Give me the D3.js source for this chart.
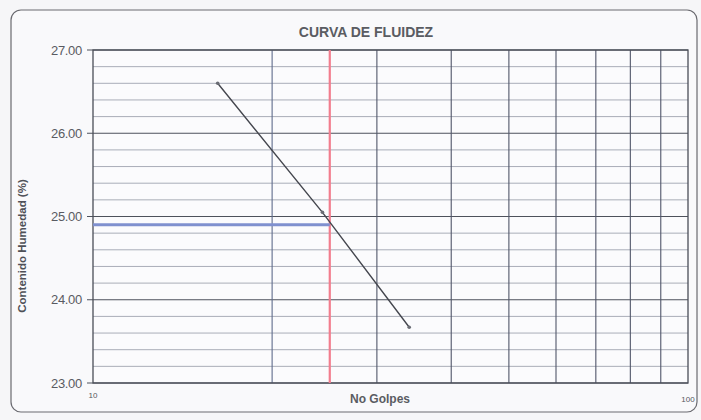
<!DOCTYPE html>
<html>
<head>
<meta charset="utf-8">
<script src="https://cdn.jsdelivr.net/npm/d3@7"></script>
<style>
  body { margin: 0; background: #f6f6f8; }
  svg { display: block; font-family: "Liberation Sans", Arial, sans-serif; }
</style>
</head>
<body>
<svg id="chart" width="701" height="420"></svg>
<script>
// values
const golpes = [16.2, 24.3, 34.0];
const humedad = [26.60, 25.05, 23.67];
const golpesLL = 25;
const humedadLL = 24.90;
const xGrid = [20, 30, 40, 50, 60, 70, 80, 90];
const yMajor = [23, 24, 25, 26, 27];
const xLabels = [10, 100];

const margin = { top: 50, right: 13, bottom: 37, left: 93 };
const W = 701, H = 420;
const w = W - margin.left - margin.right;
const h = H - margin.top - margin.bottom;

const svg = d3.select('#chart');

// outer frame (rounded box of the sheet)
svg.append('rect')
    .attr('x', 11).attr('y', 10)
    .attr('width', 686).attr('height', 402)
    .attr('rx', 10)
    .attr('fill', '#f9f9fb')
    .attr('stroke', '#6a6a70')
    .attr('stroke-width', 1.2);

const g = svg.append('g').attr('transform', `translate(${margin.left},${margin.top})`);

const x = d3.scaleLog().domain([10, 100]).range([0, w]);
const y = d3.scaleLinear().domain([23, 27]).range([h, 0]);

g.append('rect').attr('width', w).attr('height', h).attr('fill', '#fbfbfd');

// minor horizontal grid every 0.2
const yMinor = d3.range(23.2, 27, 0.2).filter(v => Math.abs(v - Math.round(v)) > 0.01);
g.selectAll('line.ymin').data(yMinor).enter().append('line')
    .attr('class', 'ymin')
    .attr('x1', 0).attr('x2', w)
    .attr('y1', d => y(d)).attr('y2', d => y(d))
    .attr('stroke', '#a9adb8').attr('stroke-width', 1);

g.selectAll('line.ymaj').data(yMajor).enter().append('line')
    .attr('class', 'ymaj')
    .attr('x1', -6).attr('x2', w)
    .attr('y1', d => y(d)).attr('y2', d => y(d))
    .attr('stroke', '#4e525c').attr('stroke-width', 1.2);

// vertical grid (log)
g.selectAll('line.xg').data(xGrid).enter().append('line')
    .attr('class', 'xg')
    .attr('x1', d => x(d)).attr('x2', d => x(d))
    .attr('y1', 0).attr('y2', h)
    .attr('stroke', d => d === 20 ? '#5f6b8c' : '#51566a')
    .attr('stroke-width', 1.1);

// frame of plot area
g.append('rect').attr('width', w).attr('height', h)
    .attr('fill', 'none').attr('stroke', '#4a4e58').attr('stroke-width', 1.3);

// 25 blows guide (red) and moisture at 25 blows (blue)
g.append('line')
    .attr('x1', x(golpesLL)).attr('x2', x(golpesLL))
    .attr('y1', 0).attr('y2', h)
    .attr('stroke', '#f27d8e').attr('stroke-width', 2.2);

g.append('line')
    .attr('x1', 0).attr('x2', x(golpesLL))
    .attr('y1', y(humedadLL)).attr('y2', y(humedadLL))
    .attr('stroke', '#7f90cf').attr('stroke-width', 3);

// flow curve
const pts = golpes.map((d, i) => [d, humedad[i]]);
g.append('path')
    .datum(pts)
    .attr('fill', 'none')
    .attr('stroke', '#44464e')
    .attr('stroke-width', 1.4)
    .attr('d', d3.line().x(d => x(d[0])).y(d => y(d[1])));

g.selectAll('circle.pt').data(pts).enter().append('circle')
    .attr('class', 'pt')
    .attr('cx', d => x(d[0])).attr('cy', d => y(d[1]))
    .attr('r', 1.8).attr('fill', '#6a6c74');

// y tick labels
g.selectAll('text.yl').data(yMajor).enter().append('text')
    .attr('class', 'yl')
    .attr('x', -11).attr('y', d => y(d) + 4.5)
    .attr('text-anchor', 'end')
    .attr('font-size', 13)
    .attr('letter-spacing', -0.3)
    .attr('fill', '#595b62')
    .text(d => d3.format('.2f')(d));

// x tick labels
g.selectAll('text.xl').data(xLabels).enter().append('text')
    .attr('class', 'xl')
    .attr('x', d => x(d)).attr('y', (d, i) => h + 15 + i * 4)
    .attr('text-anchor', 'middle')
    .attr('font-size', 8)
    .attr('fill', '#55575e')
    .text(d => d);

// titles
svg.append('text')
    .attr('x', 366).attr('y', 37)
    .attr('text-anchor', 'middle')
    .attr('font-size', 14)
    .attr('font-weight', 'bold')
    .attr('fill', '#5a5c62')
    .text('CURVA DE FLUIDEZ');

svg.append('text')
    .attr('x', 380).attr('y', 403)
    .attr('text-anchor', 'middle')
    .attr('font-size', 12)
    .attr('font-weight', 'bold')
    .attr('fill', '#5a5c62')
    .text('No Golpes');

svg.append('text')
    .attr('transform', 'translate(26,246) rotate(-90)')
    .attr('text-anchor', 'middle')
    .attr('font-size', 11.5)
    .attr('font-weight', 'bold')
    .attr('fill', '#4f5157')
    .text('Contenido Humedad (%)');
</script>
</body>
</html>
